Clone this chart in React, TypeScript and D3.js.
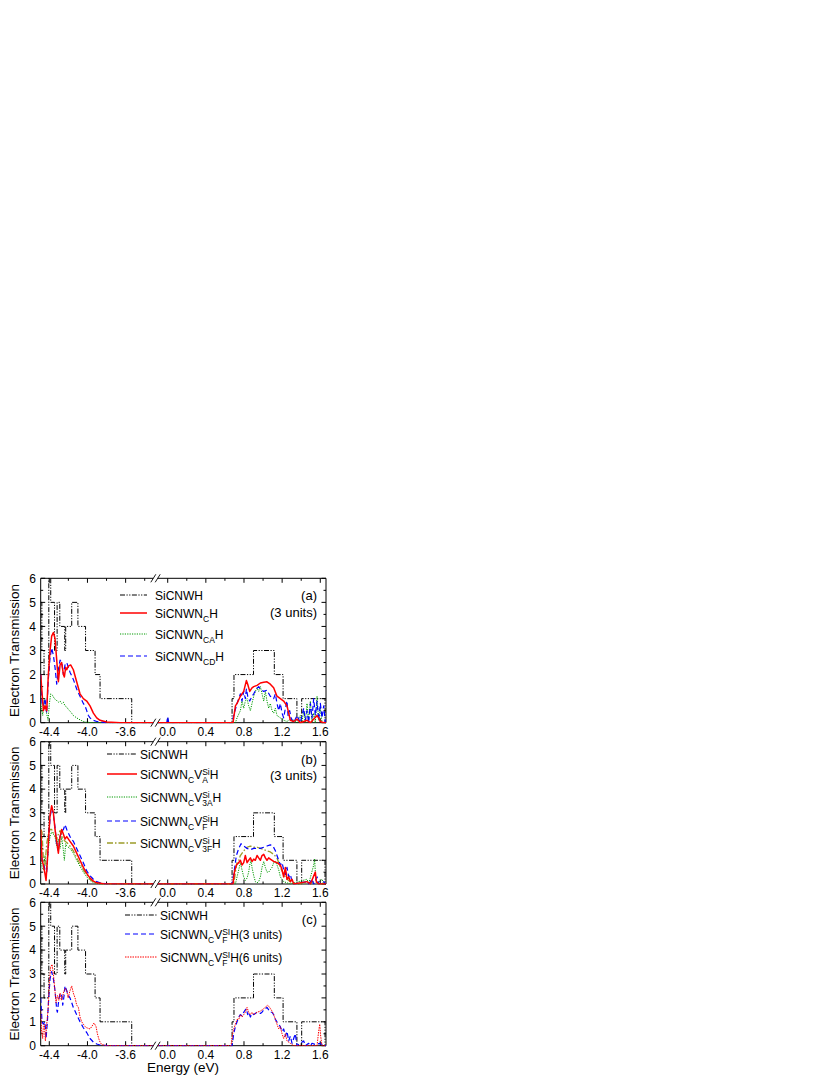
import React from 'react';
import * as d3 from 'd3';

type Pt = [number, number];

// ---------- Tick labels ----------
const xTicksLeft = [-4.4, -4.0, -3.6];
const xTicksRight = [0.0, 0.4, 0.8, 1.2, 1.6];
const xMinorLeft = [-4.2, -3.8, -3.4];
const xMinorRight = [0.2, 0.6, 1.0, 1.4];
const yTicks = [0, 1, 2, 3, 4, 5, 6];
const yMinor = [0.5, 1.5, 2.5, 3.5, 4.5, 5.5];

// ---------- Pristine SiCNWH (step function, [start eV, T]) ----------
const pristineLeft: Pt[] = [[-4.49, 5], [-4.478, 3], [-4.455, 2], [-4.405, 6], [-4.385, 5], [-4.345, 3], [-4.318, 5], [-4.29, 4], [-4.238, 3], [-4.228, 4], [-4.165, 5], [-4.1, 4], [-4.02, 3], [-3.92, 2], [-3.868, 1], [-3.536, 0], [-3.31, 0]];
const pristineRight: Pt[] = [[-0.105, 0], [0.675, 1], [0.695, 2], [0.9, 3], [1.118, 2], [1.21, 1], [1.355, 0], [1.405, 1], [1.65, 0], [1.66, 0]];

// ---------- Panel (a) ----------
const aRedLeft: Pt[] = [[-4.49, 2.0], [-4.462, 0.5], [-4.445, 0.7], [-4.427, 0.5], [-4.41, 2.0], [-4.392, 3.0], [-4.375, 3.6], [-4.357, 3.75], [-4.34, 3.5], [-4.322, 2.6], [-4.305, 1.7], [-4.287, 2.4], [-4.27, 2.5], [-4.252, 2.0], [-4.242, 1.9], [-4.228, 2.3], [-4.217, 2.2], [-4.2, 2.35], [-4.176, 2.4], [-4.148, 2.2], [-4.113, 1.7], [-4.078, 1.2], [-4.043, 1.0], [-4.008, 0.9], [-3.973, 0.7], [-3.938, 0.4], [-3.903, 0.2], [-3.868, 0.1], [-3.798, 0.03], [-3.658, 0], [-3.31, 0]];
const aRedRight: Pt[] = [[-0.105, 0], [0.685, 0], [0.71, 0.7], [0.727, 0.8], [0.762, 1.1], [0.797, 1.3], [0.825, 1.75], [0.839, 1.6], [0.86, 1.3], [0.884, 1.45], [0.902, 1.5], [0.937, 1.55], [0.972, 1.65], [1.007, 1.68], [1.041, 1.7], [1.076, 1.6], [1.111, 1.45], [1.146, 1.1], [1.181, 1.0], [1.216, 0.9], [1.251, 0.7], [1.269, 0.4], [1.286, 0.1], [1.321, 0.05], [1.356, 0.15], [1.391, 0], [1.461, 0.1], [1.496, 0], [1.566, 0.3], [1.583, 0.2], [1.601, 0.05], [1.636, 0], [1.66, 0]];
const aGreenLeft: Pt[] = [[-4.49, 0.8], [-4.469, 0.3], [-4.452, 1.0], [-4.434, 0.5], [-4.413, 0.1], [-4.399, 0.8], [-4.385, 1.2], [-4.368, 1.15], [-4.347, 1.0], [-4.329, 0.95], [-4.305, 0.85], [-4.287, 0.9], [-4.27, 0.8], [-4.252, 0.85], [-4.235, 0.7], [-4.217, 0.65], [-4.2, 0.55], [-4.176, 0.45], [-4.148, 0.3], [-4.113, 0.2], [-4.078, 0.12], [-4.043, 0.05], [-4.008, 0.02], [-3.938, 0], [-3.31, 0]];
const aGreenRight: Pt[] = [[-0.105, 0], [0.71, 0], [0.727, 0.2], [0.762, 0.5], [0.779, 0.9], [0.797, 0.6], [0.814, 0.9], [0.832, 1.0], [0.849, 0.7], [0.867, 0.5], [0.884, 0.8], [0.902, 1.1], [0.919, 1.3], [0.937, 1.45], [0.954, 1.3], [0.972, 1.5], [0.989, 1.2], [1.007, 0.9], [1.024, 1.3], [1.041, 0.9], [1.059, 0.6], [1.076, 0.8], [1.094, 0.5], [1.111, 0.4], [1.129, 0.6], [1.146, 0.3], [1.181, 0.2], [1.216, 0.1], [1.251, 0.05], [1.286, 0.15], [1.321, 0.1], [1.356, 0], [1.391, 0.3], [1.408, 0], [1.426, 0.5], [1.443, 0], [1.461, 0.8], [1.478, 0.1], [1.496, 0.9], [1.513, 0], [1.531, 0.4], [1.548, 0], [1.566, 1.1], [1.583, 0.1], [1.601, 0.6], [1.618, 0], [1.66, 0]];
const aBlueLeft: Pt[] = [[-4.49, 2.0], [-4.476, 0.8], [-4.462, 0.7], [-4.445, 1.0], [-4.427, 0.4], [-4.41, 1.8], [-4.392, 2.7], [-4.375, 3.1], [-4.357, 2.8], [-4.34, 2.3], [-4.322, 1.6], [-4.305, 2.2], [-4.287, 2.6], [-4.27, 2.5], [-4.252, 2.0], [-4.235, 2.4], [-4.217, 2.5], [-4.2, 2.3], [-4.183, 2.1], [-4.148, 1.8], [-4.113, 1.4], [-4.078, 1.1], [-4.043, 0.8], [-4.025, 0.7], [-4.008, 0.5], [-3.99, 0.3], [-3.973, 0.2], [-3.938, 0.1], [-3.903, 0.05], [-3.798, 0], [-3.31, 0]];
const aBlueRight: Pt[] = [[-0.105, 0], [-0.01, 0], [0.0, 0.25], [0.01, 0], [0.675, 0], [0.692, 0.3], [0.727, 0.8], [0.745, 1.0], [0.762, 1.2], [0.779, 0.9], [0.797, 1.3], [0.814, 1.0], [0.825, 1.4], [0.839, 1.1], [0.86, 0.9], [0.884, 1.1], [0.902, 1.2], [0.93, 1.4], [0.954, 1.5], [0.972, 1.4], [1.007, 1.3], [1.041, 1.35], [1.076, 1.1], [1.111, 1.0], [1.129, 1.2], [1.146, 0.8], [1.164, 0.5], [1.181, 0.8], [1.199, 0.4], [1.216, 0.2], [1.234, 0.6], [1.251, 0.9], [1.262, 0.3], [1.279, 0.5], [1.293, 0.2], [1.321, 0], [1.356, 0.3], [1.391, 0], [1.426, 0.6], [1.443, 0.1], [1.461, 0.5], [1.478, 0], [1.496, 0.8], [1.513, 0.2], [1.531, 1.0], [1.548, 0.3], [1.566, 0.9], [1.583, 0.1], [1.601, 0.8], [1.618, 0.2], [1.636, 0.7], [1.653, 0], [1.66, 0]];

// ---------- Panel (b) ----------
const bRedLeft: Pt[] = [[-4.49, 2.3], [-4.476, 1.0], [-4.462, 0.8], [-4.448, 0.5], [-4.434, 0.15], [-4.42, 1.0], [-4.406, 2.0], [-4.392, 2.9], [-4.375, 3.3], [-4.357, 3.0], [-4.34, 2.3], [-4.322, 1.8], [-4.305, 1.3], [-4.287, 2.0], [-4.27, 2.3], [-4.252, 2.1], [-4.235, 1.9], [-4.217, 2.0], [-4.183, 1.8], [-4.148, 1.6], [-4.113, 1.3], [-4.078, 1.0], [-4.043, 0.7], [-4.008, 0.45], [-3.973, 0.25], [-3.938, 0.12], [-3.903, 0.05], [-3.833, 0.01], [-3.728, 0], [-3.31, 0]];
const bGreenLeft: Pt[] = [[-4.49, 2.0], [-4.476, 0.7], [-4.462, 0.6], [-4.445, 1.2], [-4.427, 0.6], [-4.41, 1.5], [-4.392, 2.0], [-4.375, 2.2], [-4.357, 2.1], [-4.34, 2.0], [-4.322, 1.6], [-4.305, 1.9], [-4.287, 1.5], [-4.27, 2.0], [-4.252, 1.4], [-4.242, 1.0], [-4.228, 1.7], [-4.217, 1.6], [-4.183, 1.5], [-4.148, 1.3], [-4.113, 1.0], [-4.078, 0.75], [-4.043, 0.5], [-4.008, 0.3], [-3.973, 0.15], [-3.938, 0.06], [-3.868, 0], [-3.31, 0]];
const bBlueLeft: Pt[] = [[-4.49, 1.8], [-4.476, 1.0], [-4.462, 0.9], [-4.445, 0.6], [-4.427, 0.5], [-4.41, 1.6], [-4.392, 2.8], [-4.375, 3.2], [-4.357, 2.9], [-4.34, 2.4], [-4.322, 1.6], [-4.305, 1.4], [-4.287, 2.0], [-4.27, 2.2], [-4.252, 2.3], [-4.235, 2.5], [-4.217, 2.3], [-4.183, 2.0], [-4.148, 1.8], [-4.113, 1.5], [-4.078, 1.2], [-4.043, 0.9], [-4.008, 0.55], [-3.973, 0.35], [-3.938, 0.2], [-3.903, 0.1], [-3.868, 0.05], [-3.798, 0], [-3.31, 0]];
const bOliveLeft: Pt[] = [[-4.49, 2.3], [-4.476, 2.2], [-4.462, 1.0], [-4.445, 0.8], [-4.427, 1.7], [-4.41, 2.1], [-4.392, 2.3], [-4.375, 2.3], [-4.357, 2.15], [-4.34, 2.0], [-4.322, 1.9], [-4.305, 2.1], [-4.287, 2.25], [-4.27, 2.1], [-4.252, 1.9], [-4.235, 1.8], [-4.217, 1.75], [-4.183, 1.6], [-4.148, 1.4], [-4.113, 1.1], [-4.078, 0.85], [-4.043, 0.6], [-4.008, 0.4], [-3.973, 0.2], [-3.938, 0.1], [-3.903, 0.05], [-3.833, 0], [-3.31, 0]];
const bRedRight: Pt[] = [[-0.105, 0], [0.685, 0], [0.699, 0.5], [0.72, 0.8], [0.745, 0.9], [0.762, 1.0], [0.779, 0.8], [0.797, 0.9], [0.814, 1.2], [0.832, 0.9], [0.849, 1.0], [0.867, 1.1], [0.884, 0.95], [0.902, 1.05], [0.919, 1.0], [0.937, 1.2], [0.954, 1.1], [0.972, 1.0], [0.989, 1.2], [1.007, 1.25], [1.024, 1.1], [1.041, 1.0], [1.059, 1.1], [1.076, 1.05], [1.111, 0.95], [1.146, 0.9], [1.181, 0.8], [1.199, 0.6], [1.216, 0.3], [1.234, 0.7], [1.251, 0.2], [1.269, 0.3], [1.286, 0.1], [1.304, 0.2], [1.321, 0], [1.461, 0.1], [1.496, 0], [1.548, 0.5], [1.559, 0.1], [1.583, 0], [1.66, 0]];
const bGreenRight: Pt[] = [[-0.105, 0], [0.71, 0], [0.727, 0.3], [0.745, 0.6], [0.762, 0.9], [0.779, 0.6], [0.797, 0.3], [0.814, 0.15], [0.832, 0.25], [0.849, 0.5], [0.86, 0.8], [0.874, 1.0], [0.884, 0.7], [0.902, 0.35], [0.919, 0.1], [0.937, 0.05], [0.954, 0.1], [0.972, 0.3], [0.989, 0.7], [1.007, 0.95], [1.024, 0.7], [1.041, 0.5], [1.059, 0.5], [1.076, 0.6], [1.094, 0.7], [1.111, 0.9], [1.129, 0.95], [1.146, 0.8], [1.164, 0.6], [1.181, 0.3], [1.216, 0.1], [1.251, 0.05], [1.286, 0], [1.461, 0.2], [1.478, 0], [1.531, 0.8], [1.541, 1.05], [1.552, 0.2], [1.566, 0], [1.618, 0.2], [1.636, 0], [1.66, 0]];
const bBlueRight: Pt[] = [[-0.105, 0], [0.675, 0], [0.699, 0.6], [0.72, 1.2], [0.745, 1.5], [0.769, 1.7], [0.797, 1.6], [0.832, 1.5], [0.867, 1.45], [0.902, 1.5], [0.937, 1.5], [0.972, 1.5], [1.007, 1.55], [1.041, 1.6], [1.076, 1.65], [1.104, 1.6], [1.129, 1.4], [1.146, 1.2], [1.164, 1.0], [1.181, 0.8], [1.199, 0.9], [1.216, 0.6], [1.234, 0.4], [1.251, 0.7], [1.269, 0.3], [1.286, 0.4], [1.304, 0.1], [1.321, 0], [1.461, 0.1], [1.478, 0], [1.513, 0.2], [1.531, 0], [1.566, 0.3], [1.583, 0], [1.636, 0.1], [1.653, 0], [1.66, 0]];
const bOliveRight: Pt[] = [[-0.105, 0], [0.692, 0], [0.71, 0.5], [0.727, 0.9], [0.745, 1.0], [0.762, 1.2], [0.797, 1.4], [0.832, 1.55], [0.867, 1.6], [0.902, 1.55], [0.937, 1.55], [0.972, 1.5], [1.007, 1.45], [1.041, 1.4], [1.076, 1.35], [1.111, 1.25], [1.146, 1.1], [1.164, 0.9], [1.181, 0.7], [1.216, 0.4], [1.251, 0.2], [1.286, 0.1], [1.321, 0.05], [1.391, 0], [1.548, 0.1], [1.583, 0], [1.66, 0]];

// ---------- Panel (c) ----------
const cBlueLeft: Pt[] = [[-4.49, 2.0], [-4.476, 1.0], [-4.462, 0.9], [-4.445, 1.0], [-4.434, 0.3], [-4.42, 1.0], [-4.406, 2.0], [-4.392, 2.8], [-4.375, 3.1], [-4.357, 2.8], [-4.34, 2.3], [-4.322, 1.5], [-4.315, 1.4], [-4.301, 1.9], [-4.287, 2.2], [-4.27, 2.1], [-4.259, 1.7], [-4.245, 2.1], [-4.235, 2.5], [-4.217, 2.3], [-4.2, 2.1], [-4.183, 2.0], [-4.165, 1.8], [-4.148, 1.6], [-4.113, 1.3], [-4.078, 1.0], [-4.043, 0.75], [-4.008, 0.55], [-3.973, 0.3], [-3.938, 0.15], [-3.903, 0.07], [-3.868, 0.03], [-3.798, 0.01], [-3.728, 0], [-3.31, 0]];
const cRedLeft: Pt[] = [[-4.49, 1.5], [-4.48, 0.6], [-4.469, 0.3], [-4.462, 0.8], [-4.452, 0.9], [-4.441, 0.2], [-4.427, 0.9], [-4.413, 1.5], [-4.399, 2.7], [-4.385, 3.3], [-4.371, 3.4], [-4.357, 3.0], [-4.343, 2.4], [-4.329, 1.8], [-4.315, 2.1], [-4.301, 1.9], [-4.287, 2.2], [-4.273, 1.9], [-4.259, 2.1], [-4.245, 2.3], [-4.231, 2.4], [-4.217, 2.3], [-4.203, 2.0], [-4.183, 2.3], [-4.165, 2.5], [-4.148, 2.2], [-4.13, 2.0], [-4.113, 1.7], [-4.095, 1.6], [-4.078, 1.2], [-4.06, 1.0], [-4.043, 0.9], [-4.025, 0.8], [-4.008, 0.75], [-3.973, 0.7], [-3.955, 0.8], [-3.931, 0.95], [-3.91, 0.8], [-3.896, 0.5], [-3.882, 0.3], [-3.868, 0.15], [-3.851, 0.05], [-3.798, 0], [-3.31, 0]];
const cBlueRight: Pt[] = [[-0.105, 0], [0.675, 0], [0.692, 0.5], [0.71, 0.8], [0.727, 1.0], [0.745, 1.2], [0.762, 1.3], [0.779, 1.25], [0.797, 1.4], [0.814, 1.5], [0.825, 1.55], [0.839, 1.3], [0.849, 1.4], [0.867, 1.2], [0.884, 1.35], [0.902, 1.3], [0.919, 1.35], [0.937, 1.4], [0.972, 1.35], [0.989, 1.4], [1.007, 1.5], [1.024, 1.55], [1.041, 1.6], [1.059, 1.5], [1.076, 1.4], [1.094, 1.4], [1.111, 1.3], [1.129, 1.1], [1.146, 1.0], [1.164, 0.9], [1.181, 0.8], [1.199, 0.6], [1.216, 0.7], [1.234, 0.4], [1.251, 0.6], [1.269, 0.2], [1.286, 0.4], [1.304, 0.1], [1.321, 0.3], [1.338, 0.5], [1.356, 0], [1.426, 0.2], [1.443, 0], [1.478, 0.1], [1.496, 0], [1.513, 0.1], [1.548, 0.05], [1.601, 0.1], [1.636, 0], [1.66, 0]];
const cRedRight: Pt[] = [[-0.105, 0], [0.664, 0], [0.685, 0.6], [0.71, 0.9], [0.727, 1.1], [0.745, 1.1], [0.762, 1.3], [0.779, 1.2], [0.797, 1.3], [0.814, 1.4], [0.832, 1.6], [0.849, 1.4], [0.867, 1.3], [0.884, 1.4], [0.902, 1.3], [0.937, 1.4], [0.972, 1.45], [1.007, 1.55], [1.035, 1.65], [1.048, 1.7], [1.069, 1.6], [1.094, 1.45], [1.111, 1.3], [1.129, 1.1], [1.146, 0.9], [1.164, 0.7], [1.181, 0.8], [1.199, 0.5], [1.216, 0.3], [1.234, 0.5], [1.251, 0.2], [1.286, 0.1], [1.321, 0], [1.566, 0], [1.583, 0.6], [1.594, 0.9], [1.604, 0.4], [1.618, 0], [1.66, 0]];

// ---------- styles ----------
const FONT = '"Liberation Sans", Arial, Helvetica, sans-serif';
type Style = { color: string; width: number; dash?: string };
const sBlack: Style = { color: '#000', width: 1, dash: '5,1.5,1.2,1.5,1.2,1.5' };
const sRed: Style = { color: '#ff0000', width: 1.5 };
const sGreen: Style = { color: '#009a00', width: 1, dash: '1.2,1.2' };
const sBlue: Style = { color: '#0000ff', width: 1.2, dash: '5,3' };
const sOlive: Style = { color: '#9c9c28', width: 1.3, dash: '6,2,1.5,2' };
const sRedDot: Style = { color: '#ff0000', width: 1, dash: '1.5,1' };

type LabelPart = { t: string; k?: 'sub' | 'ss'; sub?: string; sup?: string };
type Series = { left: Pt[]; right: Pt[]; style: Style; step?: boolean };
type Legend = { style: Style; parts: LabelPart[] };

const P = (t: string): LabelPart => ({ t });
const SUB = (t: string): LabelPart => ({ t, k: 'sub' });
const SS = (sup: string, sub: string): LabelPart => ({ t: '', k: 'ss', sup, sub });

const legendA: Legend[] = [
  { style: sBlack, parts: [P('SiCNWH')] },
  { style: sRed, parts: [P('SiCNWN'), SUB('C'), P('H')] },
  { style: sGreen, parts: [P('SiCNWN'), SUB('CA'), P('H')] },
  { style: sBlue, parts: [P('SiCNWN'), SUB('CD'), P('H')] },
];
const legendB: Legend[] = [
  { style: sBlack, parts: [P('SiCNWH')] },
  { style: sRed, parts: [P('SiCNWN'), SUB('C'), P('V'), SS('Si', 'A'), P('H')] },
  { style: sGreen, parts: [P('SiCNWN'), SUB('C'), P('V'), SS('Si', '3A'), P('H')] },
  { style: sBlue, parts: [P('SiCNWN'), SUB('C'), P('V'), SS('Si', 'F'), P('H')] },
  { style: sOlive, parts: [P('SiCNWN'), SUB('C'), P('V'), SS('Si', '3F'), P('H')] },
];
const legendC: Legend[] = [
  { style: sBlack, parts: [P('SiCNWH')] },
  { style: sBlue, parts: [P('SiCNWN'), SUB('C'), P('V'), SS('SI', 'F'), P('H(3 units)')] },
  { style: sRedDot, parts: [P('SiCNWN'), SUB('C'), P('V'), SS('SI', 'F'), P('H(6 units)')] },
];

const pristine: Series = { left: pristineLeft, right: pristineRight, style: sBlack, step: true };

const panels = [
  {
    top: 578.3, bottom: 722.7, tag: '(a)', units: '(3 units)',
    series: [pristine, { left: aGreenLeft, right: aGreenRight, style: sGreen }, { left: aBlueLeft, right: aBlueRight, style: sBlue }, { left: aRedLeft, right: aRedRight, style: sRed }] as Series[],
    legend: legendA, legX0: 120, legX1: 147, legTextX: 155, legY: [595, 613, 634, 656],
  },
  {
    top: 741.7, bottom: 884, tag: '(b)', units: '(3 units)',
    series: [pristine, { left: bGreenLeft, right: bGreenRight, style: sGreen }, { left: bOliveLeft, right: bOliveRight, style: sOlive }, { left: bBlueLeft, right: bBlueRight, style: sBlue }, { left: bRedLeft, right: bRedRight, style: sRed }] as Series[],
    legend: legendB, legX0: 107, legX1: 137, legTextX: 140, legY: [754, 774, 797, 821, 843],
  },
  {
    top: 902.3, bottom: 1045.7, tag: '(c)', units: '',
    series: [pristine, { left: cBlueLeft, right: cBlueRight, style: sBlue }, { left: cRedLeft, right: cRedRight, style: sRedDot }] as Series[],
    legend: legendC, legX0: 125, legX1: 157, legTextX: 160, legY: [915, 934, 957],
  },
];

// ---------- layout ----------
const X0 = 40.7, XB1 = 153.3, XB2 = 157.7, X1 = 326;
const xl = d3.scaleLinear().domain([-4.49, -3.31]).range([X0, XB1]);
const xr = d3.scaleLinear().domain([-0.105, 1.66]).range([XB2, X1]);

let _ctx: CanvasRenderingContext2D | null = null;
function tw(s: string, size: number): number {
  if (typeof document !== 'undefined') {
    if (!_ctx) _ctx = document.createElement('canvas').getContext('2d');
    if (_ctx) { _ctx.font = `${size}px ${FONT}`; return _ctx.measureText(s).width; }
  }
  return s.length * size * 0.6;
}

const FS = 12, SFS = 8.5;
function RichLabel({ x, y, parts }: { x: number; y: number; parts: LabelPart[] }) {
  const kids: React.ReactNode[] = [];
  let cur = 0;
  let pendingDx = 0;
  parts.forEach((p, i) => {
    if (p.k === 'sub') {
      kids.push(<tspan key={i} dy={3.5 - cur} fontSize={SFS}>{p.t}</tspan>);
      cur = 3.5;
    } else if (p.k === 'ss') {
      const wSup = tw(p.sup!, SFS), wSub = tw(p.sub!, SFS);
      kids.push(<tspan key={i + 'a'} dy={-4.5 - cur} fontSize={SFS}>{p.sup}</tspan>);
      kids.push(<tspan key={i + 'b'} dx={-wSup} dy={3.5 + 4.5} fontSize={SFS}>{p.sub}</tspan>);
      cur = 3.5;
      pendingDx = Math.max(0, wSup - wSub);
    } else {
      kids.push(<tspan key={i} dx={pendingDx} dy={-cur}>{p.t}</tspan>);
      cur = 0; pendingDx = 0;
    }
  });
  return <text x={x} y={y} fontSize={FS} fontFamily={FONT} fill="#000">{kids}</text>;
}

function Panel({ p, idx }: { p: typeof panels[number]; idx: number }) {
  const y = d3.scaleLinear().domain([0, 6]).range([p.bottom, p.top]);
  const mk = (xs: d3.ScaleLinear<number, number>, step?: boolean) =>
    d3.line<Pt>().x(d => xs(d[0])).y(d => y(d[1])).curve(step ? d3.curveStepAfter : d3.curveLinear);
  const clipL = `clipL${idx}`, clipR = `clipR${idx}`;
  const ax = '#000';
  const majorLen = 4.5, minorLen = 2.5;
  const slash = (cx: number, cy: number, k: string) => (
    <line key={k} x1={cx - 2.5} y1={cy + 4} x2={cx + 2.5} y2={cy - 4} stroke={ax} strokeWidth={0.9} />
  );
  return (
    <g>
      <defs>
        <clipPath id={clipL}><rect x={X0} y={p.top - 1} width={XB1 - X0} height={p.bottom - p.top + 1.5} /></clipPath>
        <clipPath id={clipR}><rect x={XB2} y={p.top - 1} width={X1 - XB2} height={p.bottom - p.top + 1.5} /></clipPath>
      </defs>
      {/* frame */}
      <line x1={X0} y1={p.top} x2={X0} y2={p.bottom} stroke={ax} strokeWidth={1} />
      <line x1={X1} y1={p.top} x2={X1} y2={p.bottom} stroke={ax} strokeWidth={1} />
      <line x1={X0} y1={p.top} x2={XB1} y2={p.top} stroke={ax} strokeWidth={1} />
      <line x1={XB2} y1={p.top} x2={X1} y2={p.top} stroke={ax} strokeWidth={1} />
      <line x1={X0} y1={p.bottom} x2={XB1} y2={p.bottom} stroke={ax} strokeWidth={1} />
      <line x1={XB2} y1={p.bottom} x2={X1} y2={p.bottom} stroke={ax} strokeWidth={1} />
      {[slash(XB1, p.top, 's1'), slash(XB2, p.top, 's2'), slash(XB1, p.bottom, 's3'), slash(XB2, p.bottom, 's4')]}
      {/* y ticks */}
      {yTicks.map(t => (
        <g key={'yt' + t}>
          <line x1={X0} x2={X0 + majorLen} y1={y(t)} y2={y(t)} stroke={ax} />
          <line x1={X1} x2={X1 - majorLen} y1={y(t)} y2={y(t)} stroke={ax} />
          <text x={36} y={y(t)} dy="0.36em" textAnchor="end" fontSize={12} fontFamily={FONT}>{t}</text>
        </g>
      ))}
      {yMinor.map(t => (
        <g key={'ym' + t}>
          <line x1={X0} x2={X0 + minorLen} y1={y(t)} y2={y(t)} stroke={ax} />
          <line x1={X1} x2={X1 - minorLen} y1={y(t)} y2={y(t)} stroke={ax} />
        </g>
      ))}
      {/* x ticks */}
      {([[xl, xTicksLeft], [xr, xTicksRight]] as [d3.ScaleLinear<number, number>, number[]][]).map(([xs, ticks], j) =>
        ticks.map(t => (
          <g key={'xt' + j + t}>
            <line x1={xs(t)} x2={xs(t)} y1={p.bottom} y2={p.bottom - majorLen} stroke={ax} />
            <line x1={xs(t)} x2={xs(t)} y1={p.top} y2={p.top + majorLen} stroke={ax} />
            <text x={xs(t)} y={p.bottom + 13.3} textAnchor="middle" fontSize={12} fontFamily={FONT}>{d3.format('.1f')(t).replace('−', '-')}</text>
          </g>
        )))}
      {([[xl, xMinorLeft], [xr, xMinorRight]] as [d3.ScaleLinear<number, number>, number[]][]).map(([xs, ticks], j) =>
        ticks.map(t => (
          <g key={'xm' + j + t}>
            <line x1={xs(t)} x2={xs(t)} y1={p.bottom} y2={p.bottom - minorLen} stroke={ax} />
            <line x1={xs(t)} x2={xs(t)} y1={p.top} y2={p.top + minorLen} stroke={ax} />
          </g>
        )))}
      {/* data */}
      {p.series.map((s, k) => (
        <g key={'s' + k} fill="none" stroke={s.style.color} strokeWidth={s.style.width} strokeDasharray={s.style.dash} strokeLinejoin="round">
          <path d={mk(xl, s.step)(s.left) || ''} clipPath={`url(#${clipL})`} />
          <path d={mk(xr, s.step)(s.right) || ''} clipPath={`url(#${clipR})`} />
        </g>
      ))}
      {/* legend */}
      {p.legend.map((l, k) => (
        <g key={'l' + k}>
          <line x1={p.legX0} x2={p.legX1} y1={p.legY[k]} y2={p.legY[k]} stroke={l.style.color} strokeWidth={l.style.width} strokeDasharray={l.style.dash} />
          <RichLabel x={p.legTextX} y={p.legY[k] + 5} parts={l.parts} />
        </g>
      ))}
      <text x={317} y={p.top + 22} textAnchor="end" fontSize={13} fontFamily={FONT}>{p.tag}</text>
      {p.units && <text x={317} y={p.top + 38.5} textAnchor="end" fontSize={13} fontFamily={FONT}>{p.units}</text>}
      <text transform={`translate(19,${(p.top + p.bottom) / 2}) rotate(-90)`} textAnchor="middle" fontSize={13.5} fontFamily={FONT}>Electron Transmission</text>
    </g>
  );
}

export default function App() {
  return (
    <svg width={830} height={1075} style={{ position: 'absolute', left: 0, top: 0, background: '#fff' }}>
      <rect x={0} y={0} width={830} height={1075} fill="#fff" />
      {panels.map((p, i) => <Panel key={i} p={p} idx={i} />)}
      <text x={183} y={1072} textAnchor="middle" fontSize={13.5} fontFamily={FONT}>Energy (eV)</text>
    </svg>
  );
}
